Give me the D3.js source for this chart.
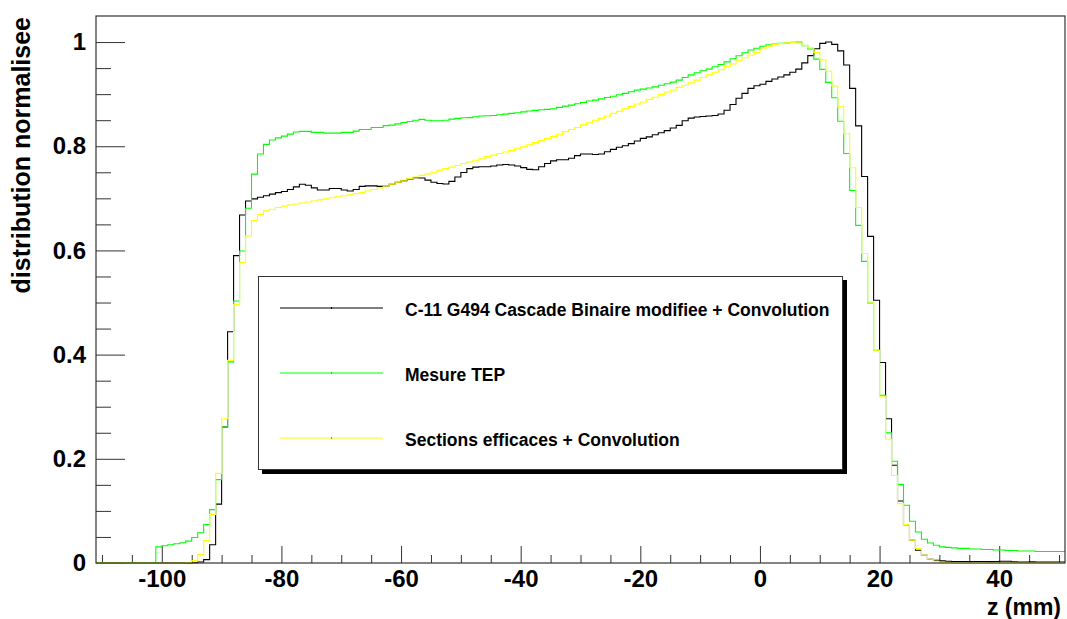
<!DOCTYPE html>
<html>
<head>
<meta charset="utf-8">
<script src="https://cdn.jsdelivr.net/npm/d3@7"></script>
<style>
  html, body { margin: 0; padding: 0; background: #fff; }
  svg { display: block; font-family: "Liberation Sans", Arial, Helvetica, sans-serif; font-weight: bold; }
</style>
</head>
<body>
<svg id="chart" width="1067" height="619"></svg>
<script>
// first bin low edge (mm), bin width 1 mm
const firstBin = -111
const lastEdge = 51

// C-11 G494 Cascade Binaire modifiee + Convolution (bins -111 .. 50)
const cascade = [
  0, 0, 0, 0, 0, 0, 0, 0, 0, 0,
  0, 0, 0, 0, 0, 0, 0.0005, 0.002, 0.0065, 0.035,
  0.113, 0.261, 0.444, 0.590, 0.668, 0.695, 0.699, 0.702, 0.705, 0.708,
  0.711, 0.713, 0.717, 0.722, 0.727, 0.725, 0.720, 0.716, 0.716, 0.719,
  0.719, 0.716, 0.714, 0.717, 0.723, 0.724, 0.724, 0.723, 0.724, 0.727,
  0.731, 0.734, 0.737, 0.7395, 0.739, 0.735, 0.731, 0.7286, 0.7275, 0.7326,
  0.741, 0.7497, 0.757, 0.760, 0.7605, 0.7605, 0.762, 0.764, 0.765, 0.764,
  0.762, 0.759, 0.7555, 0.755, 0.7605, 0.767, 0.772, 0.774, 0.774, 0.777,
  0.782, 0.785, 0.785, 0.784, 0.785, 0.7895, 0.794, 0.798, 0.801, 0.805,
  0.810, 0.815, 0.818, 0.822, 0.826, 0.830, 0.835, 0.840, 0.849, 0.854,
  0.856, 0.857, 0.858, 0.859, 0.862, 0.869, 0.880, 0.892, 0.9015, 0.911,
  0.916, 0.919, 0.9245, 0.929, 0.933, 0.937, 0.942, 0.948, 0.960, 0.974,
  0.987, 0.9975, 1.000, 0.9956, 0.983, 0.956, 0.911, 0.839, 0.742, 0.627,
  0.5045, 0.385, 0.277, 0.1876, 0.119, 0.0737, 0.0436, 0.0244, 0.0148, 0.0071,
  0.0052, 0.004, 0.0035, 0.003, 0.003, 0.0028, 0.0028, 0.003, 0.0028, 0.0026,
  0.003, 0.0035, 0.0035, 0.0025, 0.002, 0.002, 0.0022, 0.002, 0.002, 0.0018,
  0.002, 0.002
]

// Mesure TEP
const mesure = [
  0, 0, 0, 0, 0, 0, 0, 0, 0, 0,
  0.031, 0.033, 0.035, 0.037, 0.039, 0.042, 0.049, 0.058, 0.074, 0.1025,
  0.160, 0.261, 0.386, 0.503, 0.599, 0.681, 0.7465, 0.785, 0.8035, 0.812,
  0.816, 0.8195, 0.8233, 0.8272, 0.8285, 0.8285, 0.8266, 0.8266, 0.8252, 0.8252,
  0.8252, 0.8266, 0.8266, 0.829, 0.832, 0.832, 0.836, 0.836, 0.8395, 0.8406,
  0.843, 0.8457, 0.8476, 0.850, 0.8515, 0.850, 0.849, 0.849, 0.850, 0.852,
  0.8535, 0.8546, 0.855, 0.8566, 0.858, 0.8585, 0.859, 0.8604, 0.8617, 0.863,
  0.8643, 0.866, 0.8675, 0.8688, 0.870, 0.8707, 0.872, 0.8746, 0.877, 0.879,
  0.8815, 0.884, 0.8867, 0.8886, 0.891, 0.8937, 0.896, 0.8988, 0.9015, 0.9046,
  0.9078, 0.9097, 0.9117, 0.914, 0.917, 0.920, 0.923, 0.927, 0.932, 0.937,
  0.941, 0.945, 0.948, 0.9526, 0.957, 0.962, 0.968, 0.9737, 0.9795, 0.9847,
  0.988, 0.992, 0.9948, 0.996, 0.9975, 0.998, 0.9994, 1.000, 0.993, 0.9866,
  0.9673, 0.9475, 0.9225, 0.893, 0.848, 0.786, 0.715, 0.648, 0.579, 0.499,
  0.4085, 0.322, 0.2497, 0.1953, 0.1505, 0.1108, 0.080, 0.0596, 0.0455, 0.0384,
  0.034, 0.031, 0.030, 0.029, 0.028, 0.028, 0.027, 0.027, 0.026, 0.026,
  0.025, 0.025, 0.024, 0.024, 0.023, 0.023, 0.023, 0.022, 0.022, 0.022,
  0.022, 0.022
]

// Sections efficaces + Convolution
const sections = [
  0, 0, 0, 0, 0, 0, 0, 0, 0, 0,
  0, 0, 0, 0, 0, 0.001, 0.0045, 0.016, 0.043, 0.093,
  0.172, 0.277, 0.389, 0.496, 0.577, 0.628, 0.6575, 0.669, 0.676, 0.679,
  0.6825, 0.685, 0.687, 0.689, 0.691, 0.693, 0.695, 0.697, 0.699, 0.701,
  0.703, 0.705, 0.707, 0.709, 0.711, 0.714, 0.717, 0.720, 0.724, 0.727,
  0.731, 0.735, 0.738, 0.741, 0.744, 0.747, 0.750, 0.754, 0.757, 0.760,
  0.763, 0.767, 0.770, 0.773, 0.776, 0.780, 0.783, 0.786, 0.789, 0.792,
  0.796, 0.799, 0.803, 0.807, 0.811, 0.815, 0.819, 0.823, 0.828, 0.832,
  0.836, 0.841, 0.845, 0.850, 0.854, 0.858, 0.863, 0.867, 0.872, 0.876,
  0.881, 0.885, 0.890, 0.894, 0.899, 0.904, 0.908, 0.913, 0.917, 0.922,
  0.927, 0.932, 0.937, 0.942, 0.947, 0.953, 0.958, 0.964, 0.970, 0.975,
  0.980, 0.9866, 0.991, 0.9955, 0.997, 0.998, 0.999, 0.998, 0.9936, 0.989,
  0.980, 0.9654, 0.944, 0.9155, 0.8758, 0.824, 0.7587, 0.6825, 0.594, 0.501,
  0.4085, 0.319, 0.2375, 0.168, 0.114, 0.0737, 0.0436, 0.0276, 0.0148, 0.0071,
  0.0033, 0.0014, 0.0008, 0, 0, 0, 0, 0, 0, 0,
  0, 0, 0, 0, 0, 0, 0, 0, 0, 0,
  0, 0
]

const seriesNames = [
  'C-11 G494 Cascade Binaire modifiee + Convolution',
  'Mesure TEP',
  'Sections efficaces + Convolution'
]
const seriesColors = ['#000000', '#00ff00', '#ffff00']

const xMajorTicks = [-100, -80, -60, -40, -20, 0, 20, 40]
const xMinorTicks = [-110, -105, -95, -90, -85, -75, -70, -65, -55, -50, -45, -35, -30, -25,
  -15, -10, -5, 5, 10, 15, 25, 30, 35, 45, 50]
const yMajorTicks = [0, 0.2, 0.4, 0.6, 0.8, 1]
const yMinorTicks = [0.05, 0.1, 0.15, 0.25, 0.3, 0.35, 0.45, 0.5, 0.55, 0.65, 0.7, 0.75,
  0.85, 0.9, 0.95]

const frame = {left: 96, top: 16, right: 1065, bottom: 563}

const svg = d3.select('#chart')
const x = d3.scaleLinear().domain([-111, 51]).range([frame.left, frame.right])
const y = d3.scaleLinear().domain([0, 1.05]).range([frame.bottom, frame.top])

// axes (ticks pointing into the frame)
const yMajor = svg.append('g')
  .attr('transform', `translate(${frame.left},0)`)
  .call(d3.axisLeft(y).tickValues(yMajorTicks).tickSize(-29).tickPadding(10)
    .tickFormat(d3.format('')))
const yMinor = svg.append('g')
  .attr('transform', `translate(${frame.left},0)`)
  .call(d3.axisLeft(y).tickValues(yMinorTicks).tickSize(-15).tickFormat(''))
const xMajor = svg.append('g')
  .attr('transform', `translate(0,${frame.bottom})`)
  .call(d3.axisBottom(x).tickValues(xMajorTicks).tickSize(-17).tickPadding(7)
    .tickFormat(d3.format('')))
const xMinor = svg.append('g')
  .attr('transform', `translate(0,${frame.bottom})`)
  .call(d3.axisBottom(x).tickValues(xMinorTicks).tickSize(-8).tickFormat(''))

;[yMajor, yMinor, xMajor, xMinor].forEach(g => {
  g.select('.domain').remove()
  g.selectAll('line').attr('stroke', '#333').attr('stroke-width', 1)
  g.selectAll('text')
    .attr('fill', '#000')
    .style('font-size', '24px')
    .style('font-weight', 'bold')
    .style('font-family', '"Liberation Sans", Arial, sans-serif')
})
// d3 prints -100 with a real minus sign; ROOT uses a hyphen
xMajor.selectAll('text').text(d => String(d))

// histograms, drawn as steps
const step = d3.line()
  .x(d => x(d[0]))
  .y(d => y(d[1]))
  .curve(d3.curveStepAfter)

const plot = svg.append('g')
;[cascade, mesure, sections].forEach((values, k) => {
  const pts = values.map((v, i) => [firstBin + i, v])
  pts.push([lastEdge, values[values.length - 1]])
  plot.append('path')
    .attr('d', step(pts))
    .attr('fill', 'none')
    .attr('stroke', seriesColors[k])
    .attr('stroke-width', 1.1)
})

// frame
svg.append('rect')
  .attr('x', frame.left)
  .attr('y', frame.top)
  .attr('width', frame.right - frame.left)
  .attr('height', frame.bottom - frame.top)
  .attr('fill', 'none')
  .attr('stroke', '#333')
  .attr('stroke-width', 1.2)

// axis titles
svg.append('text')
  .attr('x', frame.right - 4)
  .attr('y', 615)
  .attr('text-anchor', 'end')
  .style('font-size', '23px')
  .text('z (mm)')
svg.append('text')
  .attr('transform', `translate(30,${frame.top + 1}) rotate(-90)`)
  .attr('text-anchor', 'end')
  .style('font-size', '25px')
  .text('distribution normalisee')

// legend
const legend = {left: 258, top: 276, right: 843, bottom: 470}
svg.append('rect')
  .attr('x', legend.left + 4)
  .attr('y', legend.top + 4)
  .attr('width', legend.right - legend.left)
  .attr('height', legend.bottom - legend.top)
  .attr('fill', '#000')
svg.append('rect')
  .attr('x', legend.left + 0.5)
  .attr('y', legend.top + 0.5)
  .attr('width', legend.right - legend.left - 1)
  .attr('height', legend.bottom - legend.top - 1)
  .attr('fill', '#fff')
  .attr('stroke', '#333')
  .attr('stroke-width', 1)

const rowY = [308, 373, 438]
seriesNames.forEach((name, k) => {
  const g = svg.append('g').attr('transform', `translate(0,${rowY[k]})`)
  g.append('line')
    .attr('x1', 280).attr('x2', 383)
    .attr('y1', 0).attr('y2', 0)
    .attr('stroke', seriesColors[k])
    .attr('stroke-width', 1.2)
  g.append('line')
    .attr('x1', 331.5).attr('x2', 331.5)
    .attr('y1', -1).attr('y2', 1)
    .attr('stroke', k === 0 ? '#000' : '#888')
    .attr('stroke-width', 1)
  g.append('text')
    .attr('x', 405)
    .attr('y', 7.5)
    .style('font-size', '17.5px')
    .text(name)
})
</script>
</body>
</html>
